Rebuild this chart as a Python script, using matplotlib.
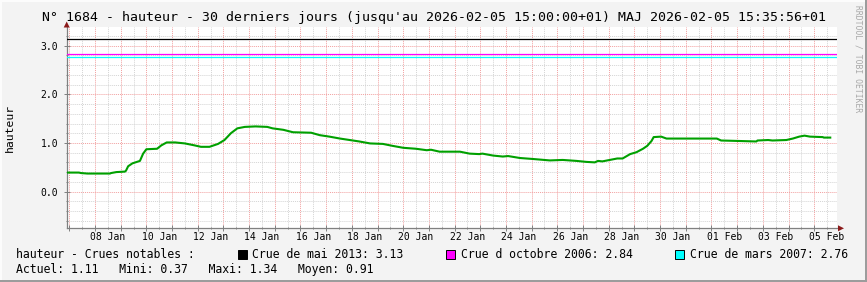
import matplotlib
matplotlib.use("Agg")
import matplotlib.pyplot as plt
import matplotlib.dates as mdates
from matplotlib.patches import Rectangle, Polygon
from matplotlib.transforms import blended_transform_factory
import pandas as pd

# ---- donnees ----
times = [
    "2026-01-06 21:40", "2026-01-07 09:00", "2026-01-07 11:00", "2026-01-07 17:00",
    "2026-01-08 14:00", "2026-01-08 15:00", "2026-01-08 20:00", "2026-01-09 04:00",
    "2026-01-09 05:00", "2026-01-09 07:00", "2026-01-09 11:00", "2026-01-09 18:00",
    "2026-01-09 21:00", "2026-01-10 00:00", "2026-01-10 10:00", "2026-01-10 14:00",
    "2026-01-10 19:00", "2026-01-11 03:00", "2026-01-11 12:00", "2026-01-11 21:00",
    "2026-01-12 03:00", "2026-01-12 11:00", "2026-01-12 19:00", "2026-01-13 01:00",
    "2026-01-13 07:00", "2026-01-13 13:00", "2026-01-13 20:00", "2026-01-14 06:00",
    "2026-01-14 17:00", "2026-01-14 22:00", "2026-01-15 08:00", "2026-01-15 17:00",
    "2026-01-16 10:00", "2026-01-16 18:00", "2026-01-17 03:00", "2026-01-17 13:00",
    "2026-01-17 22:00", "2026-01-18 07:00", "2026-01-18 17:00", "2026-01-19 05:00",
    "2026-01-19 14:00", "2026-01-20 00:00", "2026-01-20 12:00", "2026-01-20 22:00",
    "2026-01-21 02:00", "2026-01-21 10:00", "2026-01-22 05:00", "2026-01-22 14:00",
    "2026-01-22 23:00", "2026-01-23 02:00", "2026-01-23 12:00", "2026-01-23 21:00",
    "2026-01-24 02:00", "2026-01-24 13:00", "2026-01-25 01:00", "2026-01-25 17:00",
    "2026-01-26 05:00", "2026-01-26 18:00", "2026-01-27 03:00", "2026-01-27 11:00",
    "2026-01-27 14:00", "2026-01-27 18:00", "2026-01-28 01:00", "2026-01-28 08:00",
    "2026-01-28 13:00", "2026-01-28 20:00", "2026-01-29 02:00", "2026-01-29 08:00",
    "2026-01-29 12:00", "2026-01-29 16:00", "2026-01-29 18:00", "2026-01-30 01:00",
    "2026-01-30 06:00", "2026-02-01 05:00", "2026-02-01 09:00", "2026-02-02 02:00",
    "2026-02-02 18:00", "2026-02-02 19:00", "2026-02-03 05:00", "2026-02-03 09:00",
    "2026-02-03 22:00", "2026-02-04 04:00", "2026-02-04 10:00", "2026-02-04 15:00",
    "2026-02-04 20:00", "2026-02-05 08:00", "2026-02-05 09:00", "2026-02-05 15:00",
]
hauteur = [
    0.39, 0.39, 0.38, 0.37,
    0.37, 0.38, 0.40, 0.41,
    0.43, 0.52, 0.58, 0.63,
    0.78, 0.87, 0.88, 0.95,
    1.01, 1.01, 0.99, 0.95,
    0.92, 0.92, 0.98, 1.06,
    1.20, 1.30, 1.33, 1.34,
    1.33, 1.30, 1.27, 1.22,
    1.21, 1.16, 1.13, 1.09,
    1.06, 1.03, 0.99, 0.98,
    0.94, 0.90, 0.88, 0.85,
    0.86, 0.82, 0.82, 0.78,
    0.77, 0.78, 0.74, 0.72,
    0.73, 0.69, 0.67, 0.64,
    0.65, 0.63, 0.61, 0.60,
    0.63, 0.62, 0.65, 0.68,
    0.68, 0.77, 0.81, 0.88,
    0.94, 1.04, 1.12, 1.13,
    1.09, 1.09, 1.05, 1.04,
    1.03, 1.05, 1.06, 1.05,
    1.06, 1.09, 1.13, 1.15,
    1.13, 1.12, 1.11, 1.11,
]

crues_noms = ["Crue de mai 2013", "Crue d octobre 2006", "Crue de mars 2007"]
crues_valeurs = [3.13, 2.84, 2.76]
crues_couleurs = ["#000000", "#ff00ff", "#00ffff"]

labels_jours = ["2026-01-08", "2026-01-10", "2026-01-12", "2026-01-14", "2026-01-16",
                "2026-01-18", "2026-01-20", "2026-01-22", "2026-01-24", "2026-01-26",
                "2026-01-28", "2026-01-30", "2026-02-01", "2026-02-03", "2026-02-05"]

debut = pd.Timestamp("2026-01-06 21:35")
fin = pd.Timestamp("2026-02-05 21:35")

titre = "N° 1684 - hauteur - 30 derniers jours (jusqu'au 2026-02-05 15:00:00+01) MAJ 2026-02-05 15:35:56+01"
stats = "Actuel: 1.11   Mini: 0.37   Maxi: 1.34   Moyen: 0.91"

# ---- figure ----
W, H = 867, 282
MONO = "DejaVu Sans Mono"
plt.rcParams["font.family"] = MONO

fig = plt.figure(figsize=(W / 100, H / 100), dpi=100)
fig.patch.set_facecolor("#f3f3f3")


def fx(px):
    return px / W


def fy(py):
    return 1 - py / H


# bordure facon rrdtool
fig.add_artist(Rectangle((0, fy(2)), 1, 2 / H, transform=fig.transFigure, color="#fcfcfc", lw=0))
fig.add_artist(Rectangle((0, 0), 2 / W, 1, transform=fig.transFigure, color="#fcfcfc", lw=0))
fig.add_artist(Rectangle((fx(865), 0), 2 / W, 1, transform=fig.transFigure, color="#9c9c9c", lw=0))
fig.add_artist(Rectangle((0, 0), 1, 2 / H, transform=fig.transFigure, color="#9c9c9c", lw=0))

x0, x1, y0, y1 = 66.7, 837.3, 27.3, 228.3
ax = fig.add_axes([fx(x0), fy(y1), fx(x1) - fx(x0), (y1 - y0) / H])
ax.set_facecolor("white")

t = pd.to_datetime(times)
ax.plot(t, hauteur, color="#00a000", lw=1.5, zorder=5)

for v, c in zip(crues_valeurs, crues_couleurs):
    ax.axhline(v, color=c, lw=0.9, zorder=4)

ax.set_xlim(debut, fin)
ax.set_ylim(-0.757, 3.38)

ax.xaxis.set_major_locator(mdates.DayLocator())
ax.xaxis.set_minor_locator(mdates.HourLocator(byhour=[12]))
ax.xaxis.set_major_formatter(plt.NullFormatter())
ax.yaxis.set_major_locator(plt.MultipleLocator(1.0))
ax.yaxis.set_minor_locator(plt.MultipleLocator(0.2))
ax.yaxis.set_major_formatter(plt.FormatStrFormatter("%.1f"))

ax.grid(which="minor", color="#d4d4d4", lw=0.7, ls=(0, (1, 1)), zorder=1)
ax.grid(which="major", color="#f2a0a0", lw=0.7, ls=(0, (1, 1)), zorder=2)
ax.set_axisbelow(True)

for s in ["top", "right"]:
    ax.spines[s].set_visible(False)
for s in ["left", "bottom"]:
    ax.spines[s].set_color("#808080")
    ax.spines[s].set_linewidth(0.9)

ax.tick_params(which="major", direction="inout", length=4, width=0.7, color="#808080",
               labelsize=7, pad=4)
ax.tick_params(which="minor", direction="inout", length=2, width=0.7, color="#808080")

trans = blended_transform_factory(ax.transData, ax.transAxes)
for d in labels_jours:
    jour = pd.Timestamp(d) + pd.Timedelta(hours=12)
    ax.text(jour, -(237.5 - y1) / (y1 - y0), jour.strftime("%d %b"), transform=trans,
            ha="center", va="center", fontsize=7, clip_on=False)

# fleches des axes
fig.add_artist(Polygon([(fx(x0 - 3), fy(27.5)), (fx(x0 + 3), fy(27.5)), (fx(x0), fy(21.5))],
                       closed=True, transform=fig.transFigure, color="#8b1a1a", lw=0))
fig.add_artist(Polygon([(fx(838), fy(y1 - 3)), (fx(838), fy(y1 + 3)), (fx(844), fy(y1))],
                       closed=True, transform=fig.transFigure, color="#8b1a1a", lw=0))

# textes
fig.text(0.5, fy(18), titre, ha="center", va="center", fontsize=9.55)
fig.text(fx(10), fy(128), "hauteur", rotation=90, ha="center", va="center", fontsize=8.2)
fig.text(fx(858), fy(59), "RRDTOOL / TOBI OETIKER", rotation=270, ha="center", va="center",
         fontsize=5.8, color="#a8a8a8")

fig.text(fx(16), fy(254), "hauteur - Crues notables :", ha="left", va="center", fontsize=8.3)
box_x = [237.5, 445.5, 675]
for bx, nom, v, c in zip(box_x, crues_noms, crues_valeurs, crues_couleurs):
    fig.add_artist(Rectangle((fx(bx), fy(258.5)), 9 / W, 9 / H, transform=fig.transFigure,
                             facecolor=c, edgecolor="black", lw=0.7))
    fig.text(fx(bx + 15), fy(254), f"{nom}: {v:.2f}", ha="left", va="center", fontsize=8.3)
fig.text(fx(16), fy(269), stats, ha="left", va="center", fontsize=8.3)

fig.savefig("out.png", dpi=100, facecolor=fig.get_facecolor())
